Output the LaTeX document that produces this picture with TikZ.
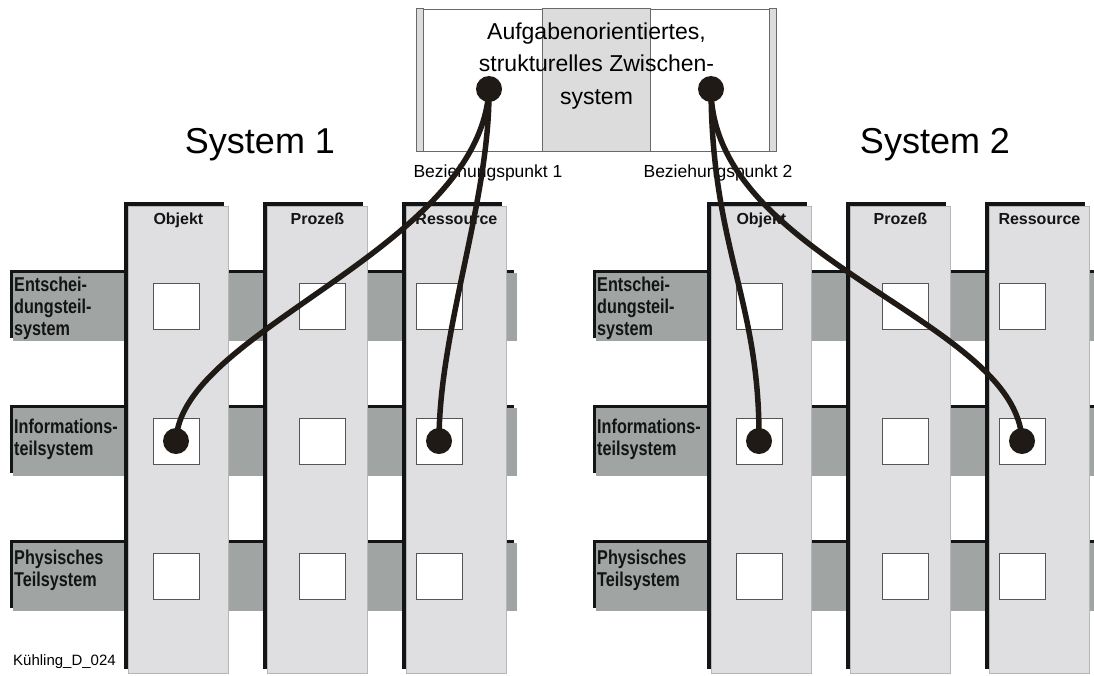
\documentclass[tikz,border=0pt]{standalone}
\usepackage{fontspec}
\setmainfont{Liberation Sans}
\newfontfamily\narrowsans[FakeStretch=0.81]{Liberation Sans}
\usepackage{tikz}
\usetikzlibrary{positioning, shadows}
\definecolor{columnGray}{RGB}{223,223,225}
\definecolor{columnEdge}{RGB}{180,182,184}
\definecolor{shadowDark}{RGB}{18,20,22}
\definecolor{bandGray}{RGB}{160,165,164}
\definecolor{wireDark}{RGB}{32,26,22}
\definecolor{panelGray}{RGB}{220,220,220}
\definecolor{boxBorder}{RGB}{105,105,105}
\definecolor{squareEdge}{RGB}{85,85,85}
\definecolor{labelBlack}{RGB}{20,20,20}

\begin{document}
\begin{tikzpicture}[
    x=1pt, y=-1pt,
    band/.style={
        rectangle,
        anchor=north west,
        inner sep=0pt,
        minimum width=504pt,
        minimum height=68pt,
        fill=bandGray,
        general shadow={fill=shadowDark, shadow xshift=-3pt, shadow yshift=3pt}
    },
    column/.style={
        rectangle,
        anchor=north west,
        inner sep=0pt,
        minimum width=100pt,
        minimum height=467pt,
        fill=columnGray,
        draw=columnEdge,
        line width=0.8pt,
        general shadow={fill=shadowDark, shadow xshift=-4pt, shadow yshift=4pt}
    },
    cell/.style={
        rectangle,
        inner sep=0pt,
        minimum size=46pt,
        fill=white,
        draw=squareEdge,
        line width=0.9pt
    },
    colhead/.style={
        inner sep=0pt,
        font=\bfseries\fontsize{16}{19}\selectfont,
        text=labelBlack
    },
    rowlabel/.style={
        inner sep=0pt,
        anchor=north west,
        align=left,
        font=\narrowsans\bfseries\fontsize{20}{22}\selectfont,
        text=labelBlack
    },
    systitle/.style={
        inner sep=0pt,
        anchor=base,
        font=\fontsize{36}{40}\selectfont
    },
    bplabel/.style={
        inner sep=0pt,
        anchor=base,
        font=\fontsize{17.5}{20}\selectfont
    },
    topbox/.style={
        rectangle,
        inner sep=0pt,
        minimum width=359pt,
        minimum height=142pt,
        fill=white,
        draw=boxBorder,
        line width=0.9pt
    },
    boxtext/.style={
        inner sep=0pt,
        anchor=north,
        align=center,
        font=\fontsize{23}{32.5}\selectfont
    },
    bpdot/.style={
        circle,
        inner sep=0pt,
        minimum size=26pt,
        fill=wireDark
    },
    wire/.style={
        line width=5.5pt,
        draw=wireDark
    }
]
\useasboundingbox (0,0) rectangle (1094,675);

% Row bands - System 1
\node[band] (b1e) at (13,273) {};
\node[band] (b1i) at (13,408) {};
\node[band] (b1p) at (13,543) {};
% Row bands - System 2
\node[band] (b2e) at (596,273) {};
\node[band] (b2i) at (596,408) {};
\node[band] (b2p) at (596,543) {};

% Row labels
\node[rowlabel] (l1e) at (14,277) {Entschei-\\dungsteil-\\system};
\node[rowlabel] (l1i) at (14,419) {Informations-\\teilsystem};
\node[rowlabel] (l1p) at (14,550) {Physisches\\Teilsystem};
\node[rowlabel] (l2e) at (597,277) {Entschei-\\dungsteil-\\system};
\node[rowlabel] (l2i) at (597,419) {Informations-\\teilsystem};
\node[rowlabel] (l2p) at (597,550) {Physisches\\Teilsystem};

% Columns - System 1
\node[column] (c1o) at (128,206) {};
\node[column] (c1p) at (267,206) {};
\node[column] (c1r) at (406,206) {};
% Columns - System 2
\node[column] (c2o) at (711,206) {};
\node[column] (c2p) at (850,206) {};
\node[column] (c2r) at (989,206) {};

% Column headers
\node[colhead, below=7pt of c1o.north] (h1o) {Objekt};
\node[colhead, below=7pt of c1p.north] (h1p) {Prozeß};
\node[colhead, below=7pt of c1r.north] (h1r) {Ressource};
\node[colhead, below=7pt of c2o.north] (h2o) {Objekt};
\node[colhead, below=7pt of c2p.north] (h2p) {Prozeß};
\node[colhead, below=7pt of c2r.north] (h2r) {Ressource};

% Cells - System 1
\node[cell] (s1oe) at (176,306) {};
\node[cell] (s1pe) at (322.5,306) {};
\node[cell] (s1re) at (439,306) {};
\node[cell] (s1oi) at (176,441) {};
\node[cell] (s1pi) at (322.5,441) {};
\node[cell] (s1ri) at (439,441) {};
\node[cell] (s1op) at (176,576) {};
\node[cell] (s1pp) at (322.5,576) {};
\node[cell] (s1rp) at (439,576) {};
% Cells - System 2
\node[cell] (s2oe) at (759,306) {};
\node[cell] (s2pe) at (905.5,306) {};
\node[cell] (s2re) at (1022,306) {};
\node[cell] (s2oi) at (759,441) {};
\node[cell] (s2pi) at (905.5,441) {};
\node[cell] (s2ri) at (1022,441) {};
\node[cell] (s2op) at (759,576) {};
\node[cell] (s2pp) at (905.5,576) {};
\node[cell] (s2rp) at (1022,576) {};

% Intermediate system box
\node[topbox] (zs) at (596.5,80) {};
\draw[fill=panelGray, draw=boxBorder, line width=0.9pt] (zs.north west) rectangle ([xshift=7pt]zs.south west);
\draw[fill=panelGray, draw=boxBorder, line width=0.9pt] ([xshift=-7pt]zs.north east) rectangle (zs.south east);
\draw[fill=panelGray, draw=boxBorder, line width=0.9pt] ([xshift=-54pt]zs.north) rectangle ([xshift=54pt]zs.south);
\node[boxtext] (zst) at ([yshift=-14pt]zs.north) {Aufgabenorientiertes,\\strukturelles Zwischen-\\system};

% Titles and labels
\node[systitle] (t1) at (260,153) {System 1};
\node[systitle] (t2) at (935,153) {System 2};
\node[bplabel] (bl1) at (488,177) {Beziehungspunkt 1};
\node[bplabel] (bl2) at (718,177) {Beziehungspunkt 2};
\node[inner sep=0pt, anchor=base west, font=\fontsize{15}{18}\selectfont] (ref) at (13,665) {Kühling\_D\_024};

% Relation points
\coordinate (bp1) at (489,89);
\coordinate (bp2) at (711,89);

% Wires
\draw[wire] (bp1) .. controls +(-9,161) and +(4,-111) .. (s1oi.center);
\draw[wire] (bp1) .. controls +(1,111) and +(0,-111) .. (s1ri.center);
\draw[wire] (bp2) .. controls +(1,161) and +(1,-141) .. (s2oi.center);
\draw[wire] (bp2) .. controls +(1,171) and +(-4,-121) .. (s2ri.center);

% Dots
\node[bpdot] (d1) at (bp1) {};
\node[bpdot] (d2) at (bp2) {};
\node[bpdot] (d1o) at (s1oi.center) {};
\node[bpdot] (d1r) at (s1ri.center) {};
\node[bpdot] (d2o) at (s2oi.center) {};
\node[bpdot] (d2r) at (s2ri.center) {};

\end{tikzpicture}
\end{document}
